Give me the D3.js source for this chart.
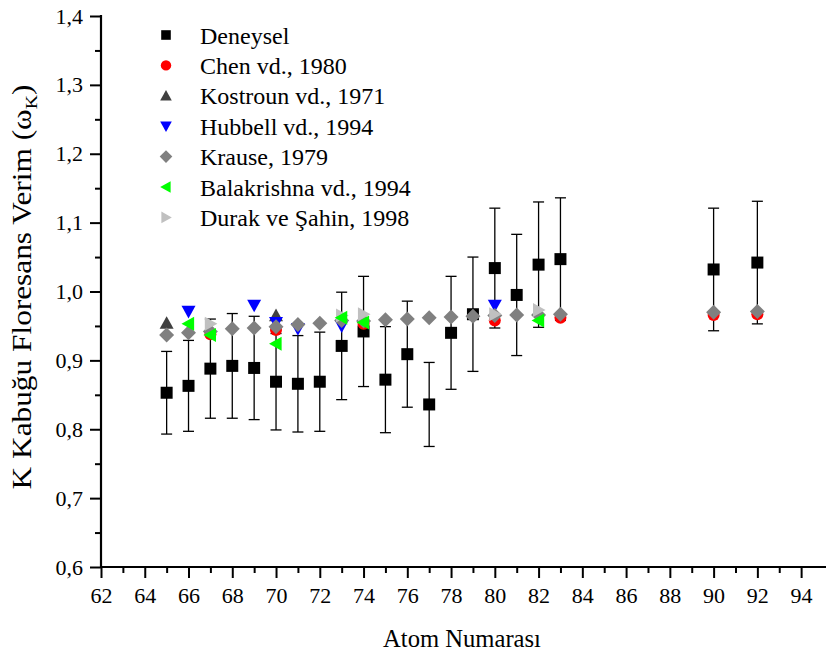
<!DOCTYPE html>
<html>
<head>
<meta charset="utf-8">
<script src="https://cdn.jsdelivr.net/npm/d3@7"></script>
<style>
  html, body { margin: 0; padding: 0; background: #fff; }
  svg { display: block; }
  svg text { font-family: "Liberation Serif", "Times New Roman", Times, "DejaVu Serif", serif !important; fill: #000; }
</style>
</head>
<body>
<svg id="chart" width="826" height="657"></svg>
<script>
// Measured K-shell fluorescence yields (with uncertainties)
const expZ     = [65, 66, 67, 68, 69, 70, 71, 72, 73, 74, 75, 76, 77, 78, 79, 80, 81, 82, 83, 90, 92];
const expOmega = [0.853, 0.863, 0.888, 0.892, 0.889, 0.869, 0.866, 0.869, 0.921, 0.942, 0.872, 0.909, 0.836, 0.940, 0.967, 1.034, 0.995, 1.039, 1.047, 1.032, 1.042];
const expErr   = [0.060, 0.066, 0.072, 0.076, 0.075, 0.070, 0.070, 0.072, 0.078, 0.080, 0.077, 0.077, 0.061, 0.082, 0.083, 0.087, 0.088, 0.091, 0.089, 0.089, 0.089];

// Literature values
const chenZ      = [67, 70, 74, 80, 83, 90, 92];
const chenOmega  = [0.938, 0.944, 0.953, 0.958, 0.962, 0.966, 0.967];
const kostZ      = [65, 70];
const kostOmega  = [0.954, 0.965];
const hubZ       = [66, 69, 70, 71, 73, 80];
const hubOmega   = [0.971, 0.980, 0.955, 0.946, 0.950, 0.980];
const krauseZ    = [65, 66, 67, 68, 69, 70, 71, 72, 73, 74, 75, 76, 77, 78, 79, 80, 81, 82, 83, 90, 92];
const krauseOmega= [0.937, 0.940, 0.942, 0.946, 0.947, 0.949, 0.952, 0.954, 0.958, 0.957, 0.959, 0.960, 0.962, 0.963, 0.964, 0.965, 0.966, 0.966, 0.967, 0.970, 0.971];
const balaZ      = [66, 67, 70, 73, 74, 82];
const balaOmega  = [0.953, 0.937, 0.924, 0.962, 0.955, 0.958];
const durakZ     = [67, 73, 74, 80, 82];
const durakOmega = [0.953, 0.965, 0.967, 0.967, 0.973];

const xTicks = d3.range(62, 95, 2);
const yTicks = [0.6, 0.7, 0.8, 0.9, 1.0, 1.1, 1.2, 1.3, 1.4];

const svg = d3.select("#chart");
const x = d3.scaleLinear().domain([62, 95]).range([101, 823]);
const y = d3.scaleLinear().domain([0.6, 1.4]).range([567, 16]);

// marker path builders (centered at 0,0), s = half-size
const shapes = {
  square:   s => `M${-s},${-s}H${s}V${s}H${-s}Z`,
  circle:   s => `M${s},0A${s},${s} 0 1,1 ${-s},0A${s},${s} 0 1,1 ${s},0Z`,
  up:       s => `M0,${-s}L${s},${s*0.8}L${-s},${s*0.8}Z`,
  down:     s => `M0,${s}L${s},${-s*0.8}L${-s},${-s*0.8}Z`,
  diamond:  s => `M0,${-s}L${s},0L0,${s}L${-s},0Z`,
  left:     s => `M${-s},0L${s*0.8},${-s}L${s*0.8},${s}Z`,
  right:    s => `M${s},0L${-s*0.8},${-s}L${-s*0.8},${s}Z`
};

const series = [
  { name: "Deneysel",              zs: expZ,    vs: expOmega,    shape: "square",  color: "#000000", size: 6,   legSize: 4.8 },
  { name: "Chen vd., 1980",        zs: chenZ,   vs: chenOmega,   shape: "circle",  color: "#ff0000", size: 6,   legSize: 5.2 },
  { name: "Kostroun vd., 1971",    zs: kostZ,   vs: kostOmega,   shape: "up",      color: "#404040", size: 7,   legSize: 5.8 },
  { name: "Hubbell vd., 1994",     zs: hubZ,    vs: hubOmega,    shape: "down",    color: "#0000ff", size: 7,   legSize: 5.8 },
  { name: "Krause, 1979",          zs: krauseZ, vs: krauseOmega, shape: "diamond", color: "#808080", size: 7.5, legSize: 6.3 },
  { name: "Balakrishna vd., 1994", zs: balaZ,   vs: balaOmega,   shape: "left",    color: "#00ff00", size: 7,   legSize: 5.8 },
  { name: "Durak ve Şahin, 1998",  zs: durakZ,  vs: durakOmega,  shape: "right",   color: "#c0c0c0", size: 7,   legSize: 5.8 }
];
// drawing order (later on top)
const drawOrder = [0, 1, 2, 3, 4, 6, 5];

// error bars
const eb = svg.append("g").attr("stroke", "#000").attr("stroke-width", 1.3);
expZ.forEach((z, i) => {
  const cx = x(z), lo = y(expOmega[i] - expErr[i]), hi = y(expOmega[i] + expErr[i]);
  eb.append("line").attr("x1", cx).attr("x2", cx).attr("y1", lo).attr("y2", hi);
  eb.append("line").attr("x1", cx - 5.5).attr("x2", cx + 5.5).attr("y1", lo).attr("y2", lo);
  eb.append("line").attr("x1", cx - 5.5).attr("x2", cx + 5.5).attr("y1", hi).attr("y2", hi);
});

// markers
drawOrder.forEach(k => {
  const s = series[k];
  svg.append("g").selectAll("path")
    .data(s.zs.map((z, i) => [z, s.vs[i]]))
    .join("path")
    .attr("d", shapes[s.shape](s.size))
    .attr("transform", d => `translate(${x(d[0])},${y(d[1])})`)
    .attr("fill", s.color);
});

// axes
const xAxis = svg.append("g").attr("transform", "translate(0,567)");
xAxis.call(d3.axisBottom(x).tickValues(d3.range(63, 95, 2)).tickSize(6).tickFormat(""))
  .call(g => g.select(".domain").remove());
xAxis.append("g").call(d3.axisBottom(x).tickValues(xTicks).tickSize(11).tickPadding(9).tickFormat(d3.format("d")))
  .call(g => g.select(".domain").remove());
xAxis.append("line").attr("x1", 100).attr("x2", 826).attr("y1", 0).attr("y2", 0).attr("stroke", "#000").attr("stroke-width", 2.2);

const yAxis = svg.append("g").attr("transform", "translate(101,0)");
yAxis.call(d3.axisLeft(y).tickValues(d3.range(0.65, 1.4, 0.1)).tickSize(6).tickFormat(""))
  .call(g => g.select(".domain").remove());
yAxis.append("g").call(d3.axisLeft(y).tickValues(yTicks).tickSize(11).tickPadding(7)
    .tickFormat(d => d3.format(".1f")(d).replace(".", ",")))
  .call(g => g.select(".domain").remove());
yAxis.append("line").attr("x1", 0).attr("x2", 0).attr("y1", 15).attr("y2", 568).attr("stroke", "#000").attr("stroke-width", 2.2);

svg.selectAll(".tick line").attr("stroke", "#000").attr("stroke-width", 2);
svg.selectAll(".tick text").attr("fill", "#000").attr("font-size", 22);

// scale a text horizontally (along its own baseline) to a target length
function fitLength(sel, target) {
  const w = sel.node().getComputedTextLength();
  return target / w;
}

// axis titles
const xt = svg.append("text").attr("text-anchor", "middle").attr("font-size", 26).text("Atom Numarası");
xt.attr("transform", `translate(462,647) scale(${fitLength(xt, 158)},1)`);

const yt = svg.append("text").attr("text-anchor", "middle").attr("font-size", 27);
yt.append("tspan").text("K Kabuğu Floresans Verim (ω");
yt.append("tspan").attr("font-size", 17).attr("dy", 6).text("K");
yt.append("tspan").attr("dy", -6).text(")");
yt.attr("transform", `translate(31,287) rotate(-90) scale(${fitLength(yt, 405)},1)`);

// legend
const leg = svg.append("g");
series.forEach((s, i) => {
  const ly = 35 + i * 30.4;
  leg.append("path").attr("d", shapes[s.shape](s.legSize))
    .attr("transform", `translate(166,${ly})`).attr("fill", s.color);
  leg.append("text").attr("x", 200).attr("y", ly + 8.5).attr("font-size", 24).text(s.name);
});
</script>
</body>
</html>
